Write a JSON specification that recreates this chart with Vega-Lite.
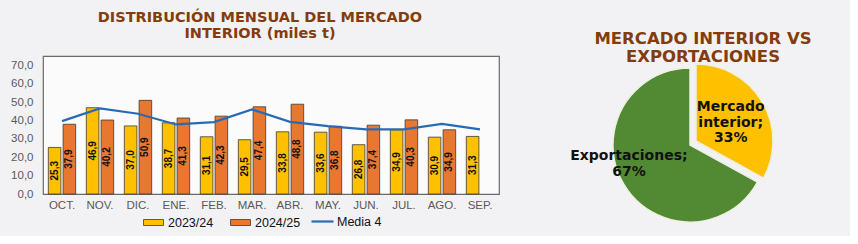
{
  "$schema": "https://vega.github.io/schema/vega-lite/v6.json",
  "background": "#f2f2f4",
  "padding": {"left": 10, "top": 9, "right": 10, "bottom": 2},
  "spacing": 40,
  "datasets": {
    "barras": [
      {"mes": "OCT.", "serie": "2023/24", "valor": 25.3},
      {"mes": "NOV.", "serie": "2023/24", "valor": 46.9},
      {"mes": "DIC.", "serie": "2023/24", "valor": 37.0},
      {"mes": "ENE.", "serie": "2023/24", "valor": 38.7},
      {"mes": "FEB.", "serie": "2023/24", "valor": 31.1},
      {"mes": "MAR.", "serie": "2023/24", "valor": 29.5},
      {"mes": "ABR.", "serie": "2023/24", "valor": 33.8},
      {"mes": "MAY.", "serie": "2023/24", "valor": 33.6},
      {"mes": "JUN.", "serie": "2023/24", "valor": 26.8},
      {"mes": "JUL.", "serie": "2023/24", "valor": 34.9},
      {"mes": "AGO.", "serie": "2023/24", "valor": 30.9},
      {"mes": "SEP.", "serie": "2023/24", "valor": 31.3},
      {"mes": "OCT.", "serie": "2024/25", "valor": 37.9},
      {"mes": "NOV.", "serie": "2024/25", "valor": 40.2},
      {"mes": "DIC.", "serie": "2024/25", "valor": 50.9},
      {"mes": "ENE.", "serie": "2024/25", "valor": 41.3},
      {"mes": "FEB.", "serie": "2024/25", "valor": 42.3},
      {"mes": "MAR.", "serie": "2024/25", "valor": 47.4},
      {"mes": "ABR.", "serie": "2024/25", "valor": 48.8},
      {"mes": "MAY.", "serie": "2024/25", "valor": 36.8},
      {"mes": "JUN.", "serie": "2024/25", "valor": 37.4},
      {"mes": "JUL.", "serie": "2024/25", "valor": 40.3},
      {"mes": "AGO.", "serie": "2024/25", "valor": 34.9}
    ],
    "media": [
      {"mes": "OCT.", "media": 39.6},
      {"mes": "NOV.", "media": 46.5},
      {"mes": "DIC.", "media": 43.6},
      {"mes": "ENE.", "media": 37.8},
      {"mes": "FEB.", "media": 39.1},
      {"mes": "MAR.", "media": 46.0},
      {"mes": "ABR.", "media": 39.2},
      {"mes": "MAY.", "media": 36.9},
      {"mes": "JUN.", "media": 35.1},
      {"mes": "JUL.", "media": 35.1},
      {"mes": "AGO.", "media": 38.1},
      {"mes": "SEP.", "media": 35.1}
    ],
    "reparto": [
      {"destino": "Mercado interior", "pct": 33, "etiqueta": "Mercado\ninterior;\n33%"},
      {"destino": "Exportaciones", "pct": 67, "etiqueta": "Exportaciones;\n67%"}
    ]
  },
  "hconcat": [
    {
      "width": 456,
      "height": 138,
      "view": {"fill": "#fbfbfb", "stroke": "#6a6a6a", "strokeWidth": 1.2},
      "title": {
        "text": ["DISTRIBUCIÓN MENSUAL DEL MERCADO", "INTERIOR (miles t)"],
        "font": "DejaVu Sans", "fontSize": 14.5, "fontWeight": "bold", "color": "#843C0C",
        "anchor": "middle", "offset": 15, "dx": -11, "lineHeight": 15.5
      },
      "resolve": {"scale": {"y": "independent"}},
      "layer": [
        {
          "data": {"name": "barras"},
          "mark": {"type": "bar", "stroke": "#3a3a3a", "strokeWidth": 0.8},
          "encoding": {
            "x": {"field": "mes", "type": "nominal", "sort": ["OCT.", "NOV.", "DIC.", "ENE.", "FEB.", "MAR.", "ABR.", "MAY.", "JUN.", "JUL.", "AGO.", "SEP."],
                  "scale": {"paddingInner": 0.28, "paddingOuter": 0.14},
                  "axis": {"title": null, "labelAngle": 0, "ticks": false, "tickSize": 0, "domain": false, "labelPadding": 5, "labelFont": "Liberation Sans", "labelFontSize": 11.5, "labelColor": "#595959"}},
            "xOffset": {"field": "serie", "type": "nominal", "scale": {"paddingInner": 0.15}},
            "y": {"field": "valor", "type": "quantitative", "scale": {"domain": [0, 75]},
                  "axis": {"title": null, "values": [0, 10, 20, 30, 40, 50, 60, 70], "format": ".1f", "labelOverlap": false, "grid": false, "ticks": false, "tickSize": 0, "domain": false, "labelPadding": 10, "labelFont": "Liberation Sans", "labelFontSize": 11.5, "labelColor": "#595959"}},
            "color": {"field": "serie", "type": "nominal",
                      "scale": {"domain": ["2023/24", "2024/25"], "range": ["#FFC000", "#E8772F"]},
                      "legend": {"title": null, "orient": "none", "legendX": 100, "legendY": 156, "direction": "horizontal", "symbolType": "M-1,-0.3L1,-0.3L1,0.3L-1,0.3Z", "symbolSize": 400, "symbolStrokeColor": "#3a3a3a", "symbolStrokeWidth": 0.8, "labelFont": "Liberation Sans", "labelFontSize": 12.5, "labelColor": "#111111", "columnPadding": 14}}
          }
        },
        {
          "data": {"name": "barras"},
          "mark": {"type": "text", "angle": 270, "font": "Liberation Sans", "fontWeight": "bold", "fontSize": 10, "color": "#111111", "baseline": "middle", "align": "center"},
          "encoding": {
            "x": {"field": "mes", "type": "nominal", "sort": ["OCT.", "NOV.", "DIC.", "ENE.", "FEB.", "MAR.", "ABR.", "MAY.", "JUN.", "JUL.", "AGO.", "SEP."]},
            "xOffset": {"field": "serie", "type": "nominal"},
            "y": {"field": "valor", "type": "quantitative", "scale": {"domain": [0, 150]}, "axis": null},
            "text": {"field": "valor", "type": "quantitative", "format": ".1f"}
          }
        },
        {
          "data": {"name": "media"},
          "mark": {"type": "line", "strokeWidth": 2.2},
          "encoding": {
            "x": {"field": "mes", "type": "nominal", "sort": ["OCT.", "NOV.", "DIC.", "ENE.", "FEB.", "MAR.", "ABR.", "MAY.", "JUN.", "JUL.", "AGO.", "SEP."]},
            "y": {"field": "media", "type": "quantitative", "scale": {"domain": [0, 75]}, "axis": null},
            "stroke": {"datum": "Media 4", "scale": {"range": ["#2A6AB5"]},
                       "legend": {"title": null, "orient": "none", "legendX": 267, "legendY": 153, "symbolType": "stroke", "symbolSize": 484, "symbolStrokeWidth": 2.2, "labelOffset": 2, "labelFont": "Liberation Sans", "labelFontSize": 12.5, "labelColor": "#111111"}}
          }
        }
      ]
    },
    {
      "width": 300,
      "height": 178,
      "title": {
        "text": ["MERCADO INTERIOR VS", "EXPORTACIONES"],
        "font": "DejaVu Sans", "fontSize": 16.5, "fontWeight": "bold", "color": "#843C0C",
        "anchor": "middle", "offset": -9, "dx": 13, "lineHeight": 18
      },
      "data": {"name": "reparto"},
      "encoding": {
        "theta": {"field": "pct", "type": "quantitative", "stack": true},
        "order": {"field": "pct", "sort": "ascending"}
      },
      "layer": [
        {
          "mark": {"type": "arc", "outerRadius": 77, "stroke": "#eef0e2", "strokeWidth": 1.5},
          "encoding": {
            "color": {"field": "destino", "type": "nominal", "scale": {"domain": ["Mercado interior", "Exportaciones"], "range": ["#FFC000", "#528A33"]}, "legend": null},
            "opacity": {"condition": {"test": "datum.destino === 'Exportaciones'", "value": 1}, "value": 0}
          }
        },
        {
          "mark": {"type": "arc", "outerRadius": 77, "xOffset": 6, "yOffset": -4, "stroke": "#eef0e2", "strokeWidth": 1.5},
          "encoding": {
            "color": {"field": "destino", "type": "nominal", "scale": {"domain": ["Mercado interior", "Exportaciones"], "range": ["#FFC000", "#528A33"]}, "legend": null},
            "opacity": {"condition": {"test": "datum.destino === 'Mercado interior'", "value": 1}, "value": 0}
          }
        },
        {
          "mark": {"type": "text", "radius": 45, "dx": 2, "dy": -15, "font": "DejaVu Sans", "fontWeight": "bold", "fontSize": 14, "lineBreak": "\n", "lineHeight": 15.5, "color": "#111111", "baseline": "middle", "align": "center"},
          "encoding": {
            "text": {"field": "etiqueta", "type": "nominal"},
            "opacity": {"condition": {"test": "datum.destino === 'Mercado interior'", "value": 1}, "value": 0}
          }
        },
        {
          "mark": {"type": "text", "radius": 64, "dx": -6, "dy": -22, "font": "DejaVu Sans", "fontWeight": "bold", "fontSize": 14, "lineBreak": "\n", "lineHeight": 16, "color": "#111111", "baseline": "middle", "align": "center"},
          "encoding": {
            "text": {"field": "etiqueta", "type": "nominal"},
            "opacity": {"condition": {"test": "datum.destino === 'Exportaciones'", "value": 1}, "value": 0}
          }
        }
      ]
    }
  ],
  "resolve": {"scale": {"color": "independent"}, "legend": {"color": "independent"}},
  "config": {
    "font": "Liberation Sans",
    "locale": {"number": {"decimal": ",", "thousands": ".", "grouping": [3], "currency": ["", " €"]}},
    "view": {"stroke": null}
  }
}
